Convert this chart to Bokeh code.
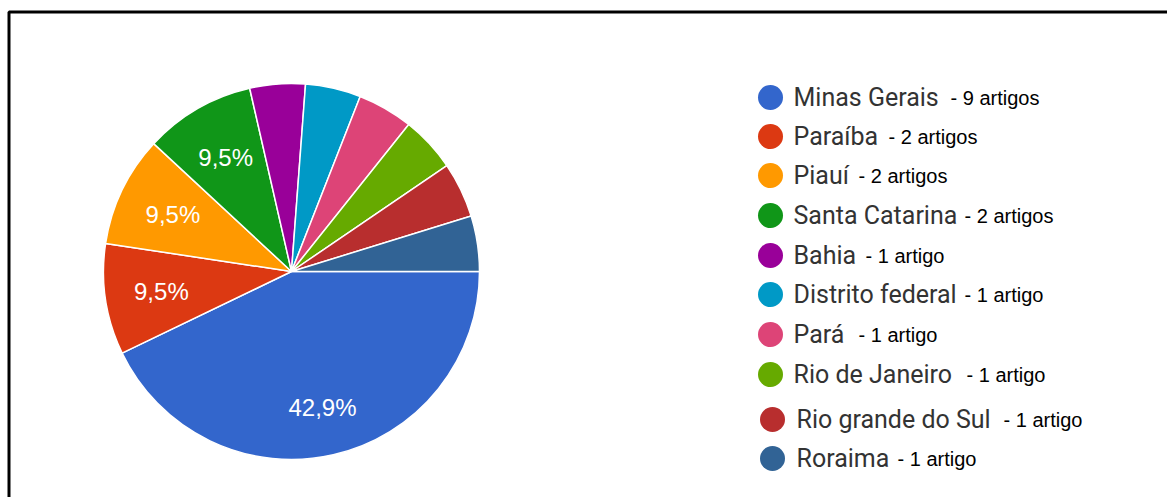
import math
from bokeh.plotting import figure
from bokeh.models import Range1d, ColumnDataSource
from bokeh.core.properties import value
from bokeh.embed import file_html
from bokeh.resources import INLINE

# ---- data ----
states = ["Minas Gerais", "Paraíba", "Piauí", "Santa Catarina", "Bahia",
          "Distrito federal", "Pará", "Rio de Janeiro", "Rio grande do Sul", "Roraima"]
counts = [9, 2, 2, 2, 1, 1, 1, 1, 1, 1]
suffixes = ["- 9 artigos", "- 2 artigos", "- 2 artigos", "- 2 artigos", "- 1 artigo",
            "- 1 artigo", "- 1 artigo", "- 1 artigo", "- 1 artigo", "- 1 artigo"]
colors = ["#3366cc", "#dc3912", "#ff9900", "#109618", "#990099",
          "#0099c6", "#dd4477", "#66aa00", "#b82e2e", "#316395"]

# ---- layout ----
W, H = 1167, 497
CX, CY_TOP, R = 291, 271, 188
MIN_LABEL_FRAC = 0.07
# legend layout (pixels from top-left)
leg_row_y = [97, 136, 175, 215, 255, 294, 334, 374, 419, 458]
leg_dot_x = [770] * 8 + [772, 772]
leg_text_x = [793] * 8 + [796, 796]
leg_suffix_x = [950, 888, 858, 964, 865, 964, 858, 966, 1003, 897]

def fy(y_top):
    return H - y_top

total = sum(counts)
fracs = [c / total for c in counts]
starts, ends, mids = [], [], []
cum = 0.0
for f in fracs:
    a0 = -cum * 2 * math.pi
    a1 = -(cum + f) * 2 * math.pi
    starts.append(a1)
    ends.append(a0)
    mids.append((a0 + a1) / 2)
    cum += f

p = figure(width=W, height=H, x_range=Range1d(0, W), y_range=Range1d(0, H),
           output_backend="svg", toolbar_location=None, min_border=0)
p.axis.visible = False
p.grid.visible = False
p.outline_line_color = None
p.background_fill_color = "white"

# frame lines (partial border as in the reference)
p.line(x=[8.5, 8.5, W + 10], y=[-10, fy(11.5), fy(11.5)], line_color="black", line_width=3)

src = ColumnDataSource(dict(start=starts, end=ends, color=colors,
                            x=[CX] * len(counts), y=[fy(CY_TOP)] * len(counts)))
p.wedge(x="x", y="y", radius=R, radius_units="screen", start_angle="start",
        end_angle="end", fill_color="color", line_color="white", line_width=1.5,
        source=src)

# percentage labels (larger slices a bit further out)
lx, ly, lt = [], [], []
for f, m in zip(fracs, mids):
    if f >= MIN_LABEL_FRAC:
        lr = 0.74 if f > 0.3 else 0.70
        lx.append(CX + lr * R * math.cos(m))
        ly.append(fy(CY_TOP) + lr * R * math.sin(m))
        lt.append(f"{f * 100:.1f}%".replace(".", ","))
p.text(x=lx, y=ly, text=lt, text_color="white", text_font=value("Liberation Sans"),
       text_font_size="24px", text_align="center", text_baseline="middle")

# legend
p.scatter(x=leg_dot_x, y=[fy(v) for v in leg_row_y], size=25, marker="circle",
          fill_color=colors, line_color=None)
p.text(x=leg_text_x, y=[fy(v) for v in leg_row_y], text=states, text_color="#333333",
       text_font=value("Roboto"), text_font_size="25px", text_baseline="middle")
p.text(x=leg_suffix_x, y=[fy(v) for v in leg_row_y], text=suffixes, text_color="black",
       text_font=value("Liberation Sans"), text_font_size="20px", text_baseline="middle")

open("out.html", "w").write(file_html(p, INLINE))
